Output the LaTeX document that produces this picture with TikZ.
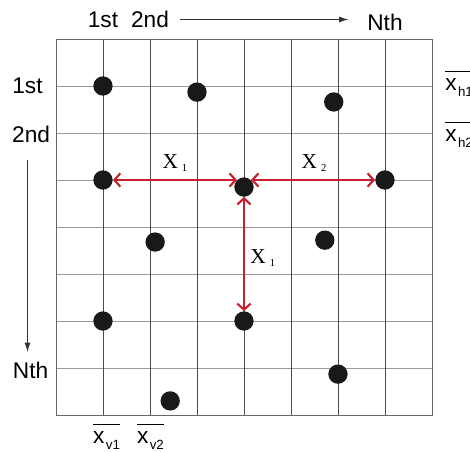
\documentclass[tikz,border=0pt]{standalone}
\usepackage{fontspec}
\setmainfont{Liberation Sans}
\newfontfamily\timesfont{Liberation Serif}
\usetikzlibrary{arrows.meta}
\definecolor{distred}{RGB}{200,32,44}
\newcommand{\meanx}[1]{$\overline{\mbox{x\kern1pt\raisebox{-4pt}{\fontsize{10}{11}\selectfont #1}}\rule{0pt}{13.5pt}}$}
\newcommand{\distx}[1]{X\kern3pt\raisebox{-2pt}{\fontsize{8}{9}\selectfont #1}}

\begin{document}
\begin{tikzpicture}[x=35.25pt, y=-35.25pt,
    dot/.style={circle, fill=black!90, minimum size=14.5pt, inner sep=0pt},
    distarrow/.style={distred, line width=1.6pt, {Straight Barb[length=4.5pt,width=10pt]}-{Straight Barb[length=4.5pt,width=10pt]}},
    orderarrow/.style={black!80, line width=0.7pt, -{Latex[length=7pt,width=4.5pt]}},
    vline/.style={black!70, line width=0.6pt},
    hline/.style={black!40, line width=0.6pt},
    lab/.style={font=\fontsize{17}{19}\selectfont, inner sep=2pt},
    xlab/.style={font=\timesfont\fontsize{16}{18}\selectfont, inner sep=0pt},
    meanlab/.style={font=\fontsize{17}{19}\selectfont, inner sep=0pt, anchor=north west}]
        \useasboundingbox (-1.191,-0.830) rectangle (8.809,8.787);
        % grid
        \draw[hline] (0,1)--++ (8,0);
        \draw[hline] (0,2)--++ (8,0);
        \draw[hline] (0,3)--++ (8,0);
        \draw[hline] (0,4)--++ (8,0);
        \draw[hline] (0,5)--++ (8,0);
        \draw[hline] (0,6)--++ (8,0);
        \draw[hline] (0,7)--++ (8,0);
        \draw[vline] (1,0)--++ (0,8);
        \draw[vline] (2,0)--++ (0,8);
        \draw[vline] (3,0)--++ (0,8);
        \draw[vline] (4,0)--++ (0,8);
        \draw[vline] (5,0)--++ (0,8);
        \draw[vline] (6,0)--++ (0,8);
        \draw[vline] (7,0)--++ (0,8);
        \draw[black!60, line width=0.6pt] (0,0) rectangle (8,8);
        %
        \node[dot] (a1) at (1,1) {};
        \node[dot] (a2) at (3,1.13) {};
        \node[dot] (a3) at (5.91,1.34) {};
        \node[dot] (b1) at (1,3) {};
        \node[dot] (b2) at (4,3.15) {};
        \node[dot] (b3) at (7,3) {};
        \node[dot] (c1) at (2.11,4.32) {};
        \node[dot] (c2) at (5.72,4.28) {};
        \node[dot] (d1) at (1,6) {};
        \node[dot] (d2) at (4,6) {};
        \node[dot] (e1) at (6,7.13) {};
        \node[dot] (e2) at (2.43,7.70) {};
        %
        \draw[distarrow] (b1.east) -- (b1 -| b2.north west);
        \draw[distarrow] (b2.north east |- b3) -- (b3.west);
        \draw[distarrow] (b2.south) -- (d2.north);
        \node[xlab] (x1h) at (2.53,2.64) {\distx{1}};
        \node[xlab] (x2h) at (5.49,2.64) {\distx{2}};
        \node[xlab] (x1v) at (4.40,4.66) {\distx{1}};
        %
        \node[lab] (top1) at (1,-0.415) {1st};
        \node[lab] (top2) at (2,-0.415) {2nd};
        \node[lab] (topN) at (7,-0.35) {Nth};
        \draw[orderarrow, shorten <=6.5pt, shorten >=12pt] (top2.east) -- (top2.east -| topN.west);
        %
        \node[lab] (left1) at (-0.606,1) {1st};
        \node[lab] (left2) at (-0.53,2.03) {2nd};
        \node[lab] (leftN) at (-0.54,7.04) {Nth};
        \draw[orderarrow, shorten <=10.5pt, shorten >=5pt] (left1 |- left2.south) -- (left1 |- leftN.north);
        %
        \node[meanlab] (v1) at (0.787,8.17) {\meanx{v1}};
        \node[meanlab] (v2) at (1.72,8.17) {\meanx{v2}};
        \node[meanlab] (h1) at (8.28,0.66) {\meanx{h1}};
        \node[meanlab] (h2) at (8.28,1.745) {\meanx{h2}};
    \end{tikzpicture}
\end{document}
